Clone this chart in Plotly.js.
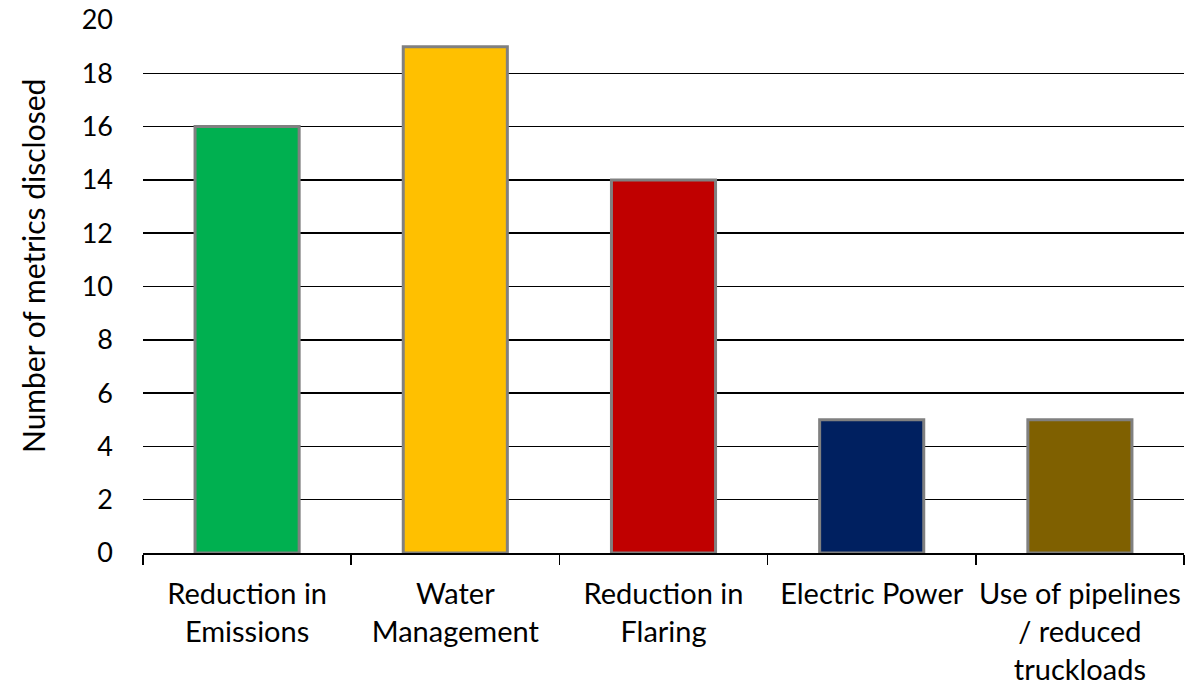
<!DOCTYPE html>
<html>
<head>
<meta charset="utf-8">
<script src="https://cdn.plot.ly/plotly-3.0.1.min.js"></script>
<style>html,body{margin:0;padding:0;background:#fff;}#chart{width:1186px;height:685px;}</style>
</head>
<body>
<div id="chart"></div>
<script>
const categories = ["Reduction in<br>Emissions", "Water<br>Management", "Reduction in<br>Flaring", "Electric Power", "Use of pipelines<br>/ reduced<br>truckloads"];
const values = [16, 19, 14, 5, 5];
const barColors = ["#00B050", "#FFC000", "#C00000", "#002060", "#7F6000"];
const yTicks = [0, 2, 4, 6, 8, 10, 12, 14, 16, 18, 20];
const yTitle = "Number of metrics disclosed";

const font = "Lato, 'Open Sans', sans-serif";
Plotly.newPlot("chart", [{
  type: "bar",
  x: categories,
  y: values,
  marker: {color: barColors, line: {color: "#808080", width: 3}},
  width: 0.5,
  hoverinfo: "none"
}], {
  width: 1186, height: 685,
  margin: {l: 143, r: 2, t: 20, b: 132},
  paper_bgcolor: "#fff", plot_bgcolor: "#fff",
  showlegend: false,
  font: {family: font, size: 27, color: "#000"},
  xaxis: {
    type: "category",
    showline: true, linecolor: "#000", linewidth: 1.5,
    ticks: "outside", tickson: "boundaries", ticklen: 10, tickcolor: "#000", tickwidth: 1.5,
    showgrid: false,
    tickangle: 0,
    ticklabelstandoff: 15,
    tickfont: {family: font, size: 29, color: "#000"},
    automargin: false
  },
  yaxis: {
    range: [0, 20],
    tickvals: yTicks,
    showline: false,
    showgrid: true, gridcolor: "#000", gridwidth: 1.5,
    zeroline: false,
    ticks: "", ticklabelstandoff: 29,
    tickfont: {family: font, size: 27, color: "#000"},
    automargin: false
  },
  annotations: [{
    text: yTitle, textangle: -90, showarrow: false,
    xref: "paper", yref: "paper",
    x: -110 / 1041, y: (553 - 266) / 533,
    xanchor: "center", yanchor: "middle",
    font: {family: font, size: 30, color: "#000"}
  }],
  bargap: 0.5
}, {displayModeBar: false, staticPlot: true});
</script>
</body>
</html>
